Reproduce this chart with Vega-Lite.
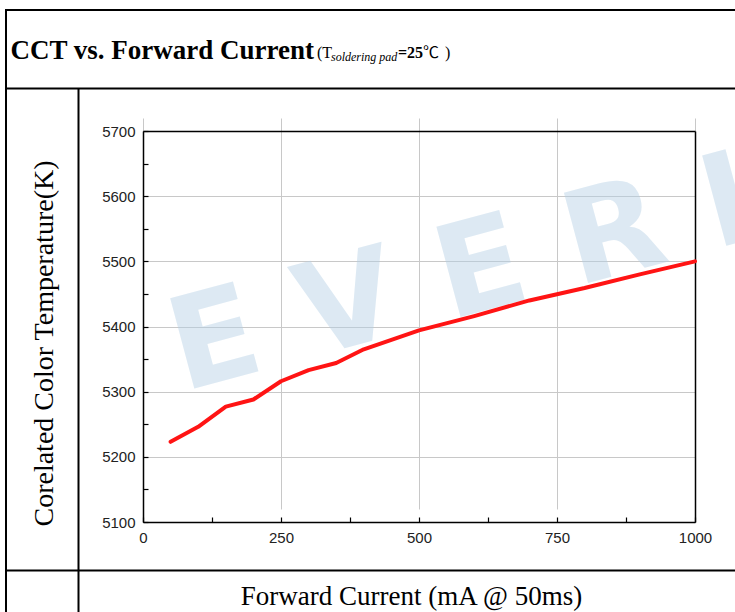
{
  "$schema": "https://vega.github.io/schema/vega-lite/v6.json",
  "autosize": {"type": "none"},
  "padding": {"left": 6, "top": 10, "right": 0, "bottom": 0},
  "background": "white",
  "width": 740,
  "height": 620,
  "view": {"stroke": "black", "strokeWidth": 2},
  "config": {
    "text": {"font": "Liberation Serif", "color": "black"}
  },
  "resolve": {
    "scale": {"x": "independent", "y": "independent"},
    "axis": {"x": "independent", "y": "independent"}
  },
  "layer": [
    {
      "data": {"values": [{"a": 0}]},
      "mark": {"type": "point", "opacity": 0},
      "encoding": {
        "x": {
          "field": "a", "type": "quantitative",
          "scale": {"domain": [0, 1], "range": [0, 740]},
          "axis": {
            "orient": "top", "offset": -78,
            "ticks": false, "labels": false, "grid": false,
            "domainColor": "black", "domainWidth": 2,
            "title": "CCT vs. Forward Current",
            "titleFont": "Liberation Serif", "titleFontSize": 27, "titleFontWeight": "bold", "titleColor": "black",
            "titleAlign": "left", "titleBaseline": "alphabetic",
            "titleX": 4, "titleY": -30
          }
        }
      }
    },
    {
      "data": {"values": [{"a": 0, "b": 0}]},
      "mark": {"type": "point", "opacity": 0},
      "encoding": {
        "x": {
          "field": "a", "type": "quantitative",
          "scale": {"domain": [0, 1], "range": [0, 740]},
          "axis": {
            "orient": "bottom", "offset": -60,
            "ticks": false, "labels": false, "grid": false,
            "domainColor": "black", "domainWidth": 2,
            "title": "Forward Current (mA @ 50ms)",
            "titleFont": "Liberation Serif", "titleFontSize": 27, "titleFontWeight": "normal", "titleColor": "black",
            "titleAlign": "center", "titleBaseline": "alphabetic",
            "titleX": 405, "titleY": 34
          }
        },
        "y": {
          "field": "b", "type": "quantitative",
          "scale": {"domain": [0, 1], "range": [620, 78]},
          "axis": {
            "orient": "left", "offset": -72,
            "ticks": false, "labels": false, "grid": false,
            "domainColor": "black", "domainWidth": 2,
            "title": "Corelated Color Temperature(K)",
            "titleFont": "Liberation Serif", "titleFontSize": 28, "titleFontWeight": "normal", "titleColor": "black",
            "titleAlign": "center", "titleBaseline": "alphabetic", "titleAngle": 270,
            "titleX": -26, "titleY": 333
          }
        }
      }
    },
    {
      "data": {"values": [{"part": "(T"}]},
      "mark": {"type": "text", "align": "left", "baseline": "alphabetic", "font": "Liberation Serif", "fontSize": 16, "dx": -59, "dy": -262},
      "encoding": {"text": {"field": "part"}}
    },
    {
      "data": {"values": [{"part": "soldering pad"}]},
      "mark": {"type": "text", "align": "left", "baseline": "alphabetic", "font": "Liberation Serif", "fontStyle": "italic", "fontSize": 12, "dx": -45, "dy": -259},
      "encoding": {"text": {"field": "part"}}
    },
    {
      "data": {"values": [{"part": "=25"}]},
      "mark": {"type": "text", "align": "left", "baseline": "alphabetic", "font": "Liberation Serif", "fontWeight": "bold", "fontSize": 16, "dx": 22, "dy": -262},
      "encoding": {"text": {"field": "part"}}
    },
    {
      "data": {"values": [{"part": "℃"}]},
      "mark": {"type": "text", "align": "left", "baseline": "alphabetic", "font": "Noto Sans CJK SC", "fontWeight": "normal", "fontSize": 16, "dx": 47, "dy": -262},
      "encoding": {"text": {"field": "part"}}
    },
    {
      "data": {"values": [{"part": ")"}]},
      "mark": {"type": "text", "align": "left", "baseline": "alphabetic", "font": "Liberation Serif", "fontSize": 16, "dx": 69, "dy": -262},
      "encoding": {"text": {"field": "part"}}
    },
    {
      "data": {"values": [{"wm": "E V E R L I G H T"}]},
      "mark": {"type": "text", "font": "DejaVu Sans", "fontWeight": "bold", "fontSize": 128, "angle": 345, "align": "left", "baseline": "alphabetic", "color": "#b4d0e6", "opacity": 0.45, "dx": -205, "dy": 19},
      "encoding": {"text": {"field": "wm"}}
    },
    {
      "data": {"values": [
        {"current": 50, "cct": 5223},
        {"current": 100, "cct": 5246},
        {"current": 150, "cct": 5277},
        {"current": 200, "cct": 5288},
        {"current": 250, "cct": 5316},
        {"current": 300, "cct": 5333},
        {"current": 350, "cct": 5344},
        {"current": 400, "cct": 5365},
        {"current": 500, "cct": 5394},
        {"current": 600, "cct": 5416},
        {"current": 700, "cct": 5440},
        {"current": 800, "cct": 5459},
        {"current": 900, "cct": 5480},
        {"current": 1000, "cct": 5500}
      ]},
      "mark": {"type": "line", "color": "#ff1414", "strokeWidth": 4, "strokeJoin": "round", "strokeCap": "round"},
      "encoding": {
        "x": {
          "field": "current", "type": "quantitative",
          "scale": {"domain": [0, 1000], "range": [137, 689], "nice": false},
          "axis": {
            "orient": "bottom", "offset": -108,
            "title": null,
            "values": [0, 125, 250, 375, 500, 625, 750, 875, 1000],
            "labelExpr": "datum.value % 250 === 0 ? datum.label : ''",
            "format": "d",
            "labelFlush": false,
            "grid": true,
            "gridColor": "#c8c8c8",
            "gridWidth": 1,
            "gridOpacity": {"condition": {"test": "datum.value % 250 !== 0", "value": 0}, "value": 1},
            "tickSize": -5,
            "tickColor": "black",
            "tickWidth": 1.2,
            "domainColor": "black",
            "domainWidth": 1.5,
            "labelFont": "Liberation Sans",
            "labelFontSize": 15,
            "labelColor": "#222222",
            "labelPadding": 13
          }
        },
        "y": {
          "field": "cct", "type": "quantitative",
          "scale": {"domain": [5100, 5700], "range": [512, 121], "nice": false, "zero": false},
          "axis": {
            "orient": "left", "offset": -137,
            "title": null,
            "values": [5100, 5150, 5200, 5250, 5300, 5350, 5400, 5450, 5500, 5550, 5600, 5650, 5700],
            "labelExpr": "datum.value % 100 === 0 ? datum.label : ''",
            "format": "d",
            "grid": true,
            "gridColor": "#c8c8c8",
            "gridWidth": 1,
            "gridOpacity": {"condition": {"test": "datum.value % 100 !== 0", "value": 0}, "value": 1},
            "tickSize": -5,
            "tickColor": "black",
            "tickWidth": 1.2,
            "domainColor": "black",
            "domainWidth": 1.5,
            "labelFont": "Liberation Sans",
            "labelFontSize": 15,
            "labelColor": "#222222",
            "labelPadding": 13
          }
        }
      }
    },
    {
      "data": {"values": [{"a": 0, "b": 5100}]},
      "mark": {"type": "point", "opacity": 0},
      "encoding": {
        "x": {
          "field": "a", "type": "quantitative",
          "scale": {"domain": [0, 1000], "range": [137, 689], "nice": false},
          "axis": {
            "orient": "top", "offset": -121,
            "ticks": false, "labels": false, "grid": false, "title": null,
            "domainColor": "black", "domainWidth": 1.5
          }
        },
        "y": {
          "field": "b", "type": "quantitative",
          "scale": {"domain": [5100, 5700], "range": [512, 121], "nice": false, "zero": false},
          "axis": {
            "orient": "right", "offset": -51,
            "ticks": false, "labels": false, "grid": false, "title": null,
            "domainColor": "black", "domainWidth": 1.5
          }
        }
      }
    }
  ]
}
